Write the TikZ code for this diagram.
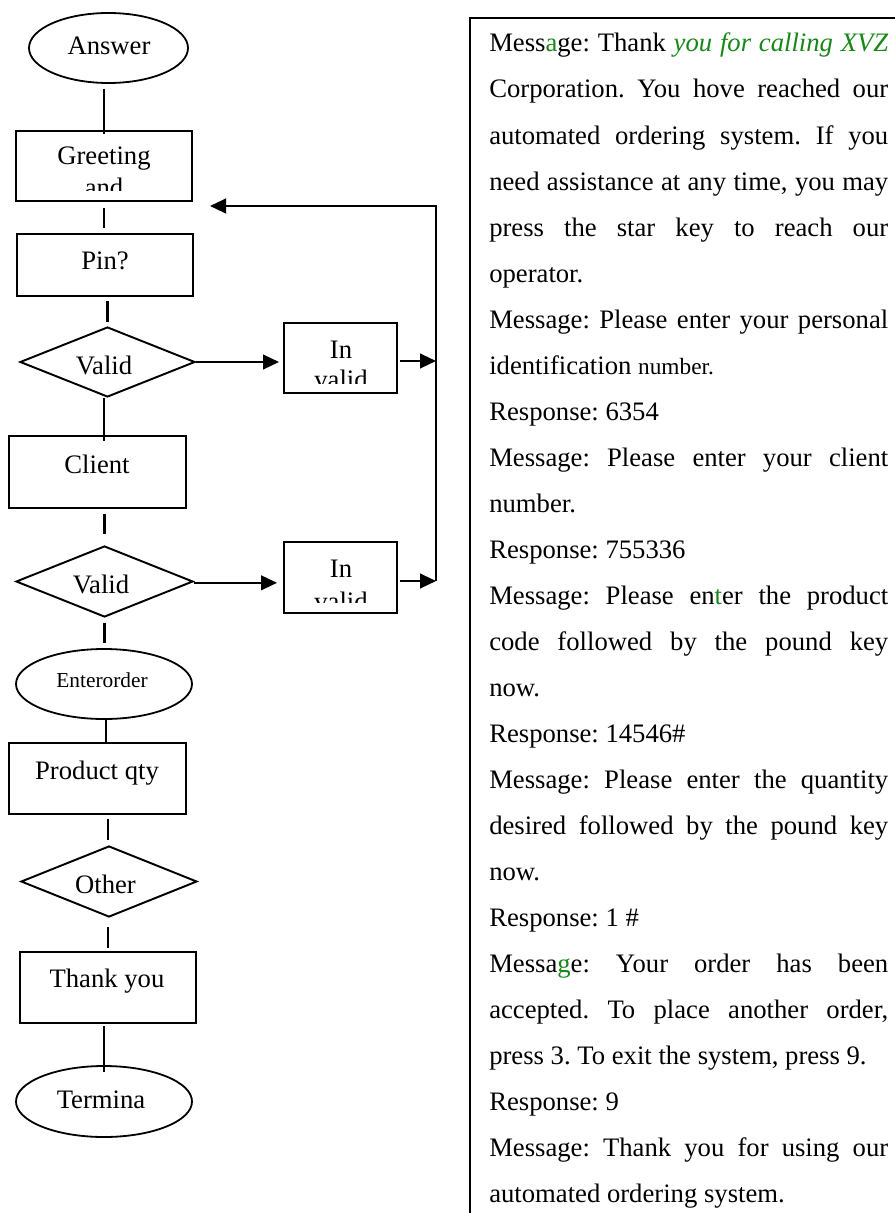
\documentclass[tikz,border=0pt]{standalone}
\usepackage{fontspec}
\setmainfont{Liberation Serif}
\usetikzlibrary{shapes.geometric,arrows.meta,calc}
\definecolor{msggreen}{RGB}{24,135,24}
% one justified line of the script panel
\newcommand{\jline}[1]{\makebox[299.25pt][s]{#1}}
\newcommand{\hl}[1]{\textcolor{msggreen}{#1}}
\frenchspacing

\begin{document}
\begin{tikzpicture}[x=0.75pt,y=-0.75pt,
  flowbox/.style={draw, rectangle, line width=1.45pt, inner sep=0pt},
  endcap/.style={draw, ellipse, line width=1.35pt, inner sep=0pt},
  decide/.style={draw, diamond, line width=1.45pt, inner sep=0pt},
  lbl/.style={anchor=base, inner sep=0pt, font=\fontsize{20}{24}\selectfont},
  conn/.style={line width=1.6pt},
  flowarrow/.style={conn, -{Triangle[length=12pt,width=11pt]}},
  msg/.style={anchor=base west, inner sep=0pt, font=\fontsize{20}{24}\selectfont},
]
\clip (0,0) rectangle (895,1213);
\fill[white] (0,0) rectangle (895,1213);

% ---------- flowchart shapes ----------
\node[endcap, minimum width=119.25pt, minimum height=52.5pt] (ans) at (108.5,48) {};
\node[flowbox, minimum width=132pt, minimum height=52.5pt] (greet) at (104,166) {};
\node[flowbox, minimum width=132pt, minimum height=46.5pt] (pin) at (105,265) {};
\node[decide, minimum width=131.25pt, minimum height=52.5pt] (v1) at (107.5,362) {};
\node[flowbox, minimum width=84.75pt, minimum height=52.5pt] (inv1) at (340.5,358) {};
\node[flowbox, minimum width=132.75pt, minimum height=54pt] (client) at (97.5,472) {};
\node[decide, minimum width=132.75pt, minimum height=53.25pt] (v2) at (104.5,581.5) {};
\node[flowbox, minimum width=84.75pt, minimum height=53.25pt] (inv2) at (340.5,577.5) {};
\node[endcap, minimum width=132pt, minimum height=52.5pt] (enter) at (104,684) {};
\node[flowbox, minimum width=132.75pt, minimum height=53.25pt] (prod) at (97.5,778.5) {};
\node[decide, minimum width=132pt, minimum height=53.25pt] (other) at (109,881.5) {};
\node[flowbox, minimum width=132pt, minimum height=53.25pt] (thanks) at (108,987.5) {};
\node[endcap, minimum width=132pt, minimum height=53.25pt] (term) at (104,1101.5) {};

% ---------- labels ----------
\node[lbl] (ansT) at (109,55) {Answer};
\begin{scope}
  \clip (greet.north west) rectangle (192,190);
  \node[lbl] (greetA) at (104,164) {Greeting};
  \node[lbl] (greetB) at (104,196) {and};
\end{scope}
\node[lbl] (pinT) at (105,269) {Pin?};
\node[lbl] (v1T) at (104,374) {Valid};
\begin{scope}
  \clip (inv1.north west) rectangle (397,383);
  \node[lbl] (inv1A) at (341,358) {In};
  \node[lbl] (inv1B) at (341,388) {valid};
\end{scope}
\node[lbl] (clientT) at (97,473) {Client};
\node[lbl] (v2T) at (101,593) {Valid};
\begin{scope}
  \clip (inv2.north west) rectangle (397,602);
  \node[lbl] (inv2A) at (341,577) {In};
  \node[lbl] (inv2B) at (341,610) {valid};
\end{scope}
\node[lbl, font=\fontsize{16}{19}\selectfont] (enterT) at (102,687) {Enterorder};
\node[lbl] (prodT) at (97,779) {Product qty};
\node[lbl] (otherT) at (105.5,893) {Other};
\node[lbl] (thanksT) at (107,987) {Thank you};
\node[lbl] (termT) at (101,1108) {Termina};

% ---------- main line ----------
\draw[conn, shorten <=3.75pt, shorten >=-3pt] (greet.north |- ans.south) -- (greet.north);
\draw[conn, shorten <=4.5pt, shorten >=3.75pt] (greet.south) -- (greet.south |- pin.north);
\draw[conn, shorten <=3pt, shorten >=3pt] (v1.north |- pin.south) -- (v1.north);
\draw[conn, shorten >=-4.5pt] ([xshift=-2.6pt]v1.south) -- ([xshift=-2.6pt]v1.south |- client.north);
\draw[conn, shorten <=3.75pt, shorten >=8.25pt] (v2.north |- client.south) -- (v2.north);
\draw[conn, shorten <=3.75pt, shorten >=3.75pt] (v2.south) -- (v2.south |- enter.north);
\draw[conn] ([xshift=1.5pt]enter.south) -- ([xshift=1.5pt]enter.south |- prod.north);
\draw[conn, shorten <=3pt, shorten >=3.75pt] ([xshift=-0.75pt]other.north |- prod.south) -- ([xshift=-0.75pt]other.north);
\draw[conn, shorten <=6.75pt, shorten >=2.25pt] (thanks.north |- other.south) -- (thanks.north);
\draw[conn, shorten <=1.5pt, shorten >=-5.25pt] (term.north |- thanks.south) -- (term.north);

% ---------- invalid branches and return loop ----------
\coordinate (busTop) at (436,206);
\coordinate (busBot) at (436,581);
\coordinate (backTip) at (210,206);
\draw[flowarrow, shorten >=3pt] (v1.east) -- (v1.east -| inv1.west);
\draw[flowarrow, shorten <=1.5pt] ([yshift=-2.25pt]inv1.east) -- ([yshift=-2.25pt]inv1.east -| busTop);
\draw[flowarrow, shorten >=4.5pt] ([yshift=-1pt]v2.east) -- ([yshift=-1pt]v2.east -| inv2.west);
\draw[flowarrow, shorten <=1.5pt] (inv2.east |- busBot) -- (busBot);
\draw[flowarrow] (busBot) -- (busTop) -- (backTip);

% ---------- call script panel ----------
\node[draw, line width=1.8pt, anchor=north west, inner sep=0pt,
      minimum width=330pt, minimum height=912pt] (panel) at (469,17) {};

\node[msg] (m1) at (489,52) {\jline{Mess\hl{a}ge: Thank \hl{\itshape you for calling XVZ}}};
\node[msg] (m2) at (489,98) {\jline{Corporation. You hove reached our}};
\node[msg] (m3) at (489,144) {\jline{automated ordering system. If you}};
\node[msg] (m4) at (489,190) {\jline{need assistance at any time, you may}};
\node[msg] (m5) at (489,236) {\jline{press the star key to reach our}};
\node[msg] (m6) at (489,282) {operator.};
\node[msg] (m7) at (489,328) {\jline{Message: Please enter your personal}};
\node[msg] (m8) at (489,374) {identification {\fontsize{17.5}{20}\selectfont number.}};
\node[msg] (m9) at (489,420) {Response: 6354};
\node[msg] (m10) at (489,466) {\jline{Message: Please enter your client}};
\node[msg] (m11) at (489,512) {number.};
\node[msg] (m12) at (489,558) {Response: 755336};
\node[msg] (m13) at (489,604) {\jline{Message: Please en\hl{t}er the product}};
\node[msg] (m14) at (489,650) {\jline{code followed by the pound key}};
\node[msg] (m15) at (489,696) {now.};
\node[msg] (m16) at (489,742) {Response: 14546\#};
\node[msg] (m17) at (489,788) {\jline{Message: Please enter the quantity}};
\node[msg] (m18) at (489,834) {\jline{desired followed by the pound key}};
\node[msg] (m19) at (489,880) {now.};
\node[msg] (m20) at (489,926) {Response: 1 \#};
\node[msg] (m21) at (489,972) {\jline{Messa\hl{g}e: Your order has been}};
\node[msg] (m22) at (489,1018) {\jline{accepted. To place another order,}};
\node[msg] (m23) at (489,1064) {press 3. To exit the system, press 9.};
\node[msg] (m24) at (489,1110) {Response: 9};
\node[msg] (m25) at (489,1156) {\jline{Message: Thank you for using our}};
\node[msg] (m26) at (489,1202) {automated ordering system.};
\end{tikzpicture}
\end{document}
